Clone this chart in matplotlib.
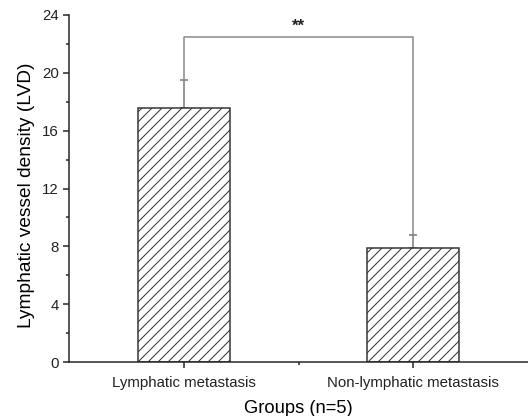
import numpy as np
import matplotlib
matplotlib.use("Agg")
import matplotlib.pyplot as plt
from matplotlib.ticker import MultipleLocator, FixedLocator

groups = ["Lymphatic metastasis", "Non-lymphatic metastasis"]
lvd_mean = [17.6, 7.9]
lvd_err = [1.9, 0.85]
bracket_y = 22.5
sig_label = "**"

plt.rcParams['font.family'] = ['Liberation Sans', 'DejaVu Sans']
plt.rcParams['hatch.linewidth'] = 0.6
plt.rcParams['hatch.color'] = '#333333'

dpi = 120
fig = plt.figure(figsize=(528 / dpi, 416 / dpi), dpi=dpi)
ax = fig.add_axes([69 / 528, 1 - 362 / 416, 1 - 69 / 528, (362 - 15) / 416])

x = np.arange(1, len(groups) + 1)
ax.bar(x, lvd_mean, width=0.4, facecolor="white", edgecolor="#333333",
       linewidth=0.9, hatch="////", zorder=2)
ax.errorbar(x, lvd_mean, yerr=[np.zeros(len(x)), lvd_err], fmt="none",
            ecolor="#777777", elinewidth=0.9, capsize=2.2, capthick=0.9, zorder=1)

tops = np.array(lvd_mean) + np.array(lvd_err)
ax.plot([x[0], x[0], x[1], x[1]], [tops[0], bracket_y, bracket_y, tops[1]],
        color="#888888", lw=0.9, zorder=1)
ax.text(x.mean(), bracket_y + 0.2, sig_label, ha="center", va="bottom",
        fontsize=10, fontweight="bold", color="#222222")

ax.set_xlim(0.5, 2.5)
ax.set_ylim(0, 24)
ax.yaxis.set_major_locator(MultipleLocator(4))
ax.yaxis.set_minor_locator(MultipleLocator(2))
ax.set_xticks(x)
ax.set_xticklabels(groups)
ax.xaxis.set_minor_locator(FixedLocator([1.5]))

for s in ["top", "right"]:
    ax.spines[s].set_visible(False)
for s in ["left", "bottom"]:
    ax.spines[s].set_linewidth(0.9)
    ax.spines[s].set_color("#222222")

ax.tick_params(axis="both", which="major", direction="out", length=3.5,
               width=0.9, labelsize=9, colors="#222222")
ax.tick_params(axis="both", which="minor", direction="out", length=2,
               width=0.9, colors="#222222")
ax.tick_params(axis="x", pad=5)
ax.tick_params(axis="y", pad=2.5)

ax.set_xlabel("Groups (n=5)", fontsize=11, labelpad=6)
ax.set_ylabel("Lymphatic vessel density (LVD)", fontsize=11.5)
ax.yaxis.set_label_coords(-0.074, 0.481)

fig.savefig("out.png", dpi=dpi)
